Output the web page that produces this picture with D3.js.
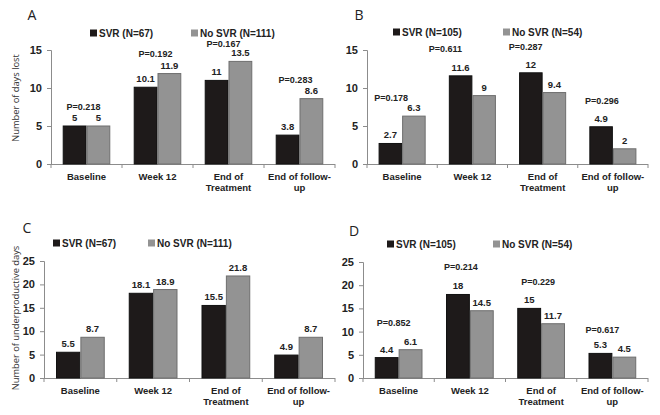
<!DOCTYPE html>
<html><head><meta charset="utf-8">
<script src="https://cdn.jsdelivr.net/npm/d3@7"></script>
<style>body{margin:0;background:#fff}svg{display:block}</style>
</head><body><svg id="c" width="660" height="415"></svg>
<script>
const categories = [["Baseline"], ["Week 12"], ["End of", "Treatment"], ["End of follow-", "up"]];
const catKeys = ["Baseline", "Week 12", "End of Treatment", "End of follow-up"];
const seriesNames = { A: ["SVR (N=67)", "No SVR (N=111)"], B: ["SVR (N=105)", "No SVR (N=54)"], C: ["SVR (N=67)", "No SVR (N=111)"], D: ["SVR (N=105)", "No SVR (N=54)"] };
const svrA = [5, 10.1, 11, 3.8];
const noSvrA = [5, 11.9, 13.5, 8.6];
const pA = ["P=0.218", "P=0.192", "P=0.167", "P=0.283"];
const svrB = [2.7, 11.6, 12, 4.9];
const noSvrB = [6.3, 9, 9.4, 2];
const pB = ["P=0.178", "P=0.611", "P=0.287", "P=0.296"];
const svrC = [5.5, 18.1, 15.5, 4.9];
const noSvrC = [8.7, 18.9, 21.8, 8.7];
const pC = [];
const svrD = [4.4, 18, 15, 5.3];
const noSvrD = [6.1, 14.5, 11.7, 4.5];
const pD = ["P=0.852", "P=0.214", "P=0.229", "P=0.617"];
const ticksAB = [0, 5, 10, 15];
const ticksCD = [0, 5, 10, 15, 20, 25];
const yTitles = { A: "Number of days lost", C: "Number of underproductive days" };

// layout (not data)
const panels = [
  { id: "A", svr: svrA, no: noSvrA, p: pA, ticks: ticksAB, max: 15, x0: 51, x1: 335, yT: 50, yB: 164, letter: [32, 20], leg: [90, 191, 33], title: [16, 98], pdx: [-3, -2, -5, -4], pdy: [20, 20, 18, 19] },
  { id: "B", svr: svrB, no: noSvrB, p: pB, ticks: ticksAB, max: 15, x0: 367, x1: 648, yT: 50, yB: 164, letter: [359, 20], leg: [393, 503, 32], pdx: [-11, -27, -17, -11], pdy: [19, 27, 26, 26] },
  { id: "C", svr: svrC, no: noSvrC, p: pC, ticks: ticksCD, max: 25, x0: 44, x1: 335, yT: 261, yB: 378, letter: [27, 233], leg: [53, 148, 243], title: [16, 318], pdx: [], pdy: [] },
  { id: "D", svr: svrD, no: noSvrD, p: pD, ticks: ticksCD, max: 25, x0: 363, x1: 648, yT: 262, yB: 378, letter: [354, 236], leg: [387, 493, 244], pdx: [-5, -9, -3, -10], pdy: [27, 28, 27, 24] }
];
const BLACK = "#1e1a1a", GRAY = "#939393", GRAYS = "#6e6e6e", AXIS = "#8c8c8c";
const svg = d3.select("#c");
const FONT = "Liberation Sans, Arial, sans-serif";

panels.forEach(P => {
  const g = svg.append("g");
  const x = d3.scaleBand().domain(catKeys).range([P.x0, P.x1]).paddingInner(0.33).paddingOuter(0.165);
  const xs = d3.scaleBand().domain([0, 1]).range([0, x.bandwidth()]);
  const y = d3.scaleLinear().domain([0, P.max]).range([P.yB, P.yT]);

  // y axis
  const ya = d3.axisLeft(y).tickValues(P.ticks).tickSize(4).tickPadding(5);
  const yg = g.append("g").attr("transform", `translate(${P.x0},0)`).call(ya);
  yg.select(".domain").attr("stroke", AXIS);
  yg.selectAll(".tick line").attr("stroke", AXIS);
  yg.selectAll(".tick text").attr("font-family", FONT).attr("font-weight", "bold").attr("font-size", 11).attr("fill", "#222");

  // x axis line with separator ticks
  g.append("line").attr("x1", P.x0).attr("x2", P.x1).attr("y1", P.yB + 0.5).attr("y2", P.yB + 0.5).attr("stroke", AXIS);
  const seps = [P.x0, ...catKeys.slice(1).map(k => x(k) - x.step() * x.paddingInner() / 2), P.x1];
  g.selectAll(".sep").data(seps).join("line").attr("x1", d => d).attr("x2", d => d)
    .attr("y1", P.yB).attr("y2", P.yB + 4).attr("stroke", AXIS);

  // bars
  const rows = catKeys.map((k, i) => ({ k, i, v: [P.svr[i], P.no[i]] }));
  const grp = g.selectAll(".grp").data(rows).join("g").attr("transform", d => `translate(${x(d.k)},0)`);
  grp.selectAll("rect").data(d => d.v.map((v, s) => ({ v, s }))).join("rect")
    .attr("x", d => xs(d.s) + 0.5).attr("width", xs.bandwidth() - 1)
    .attr("y", d => y(d.v)).attr("height", d => y(0) - y(d.v))
    .attr("fill", d => d.s === 0 ? BLACK : GRAY)
    .attr("stroke", d => d.s === 0 ? "#111" : GRAYS).attr("stroke-width", 1);
  grp.selectAll("text.val").data(d => d.v.map((v, s) => ({ v, s }))).join("text").attr("class", "val")
    .attr("x", d => xs(d.s) + xs.bandwidth() / 2).attr("y", d => y(d.v) - 5)
    .attr("text-anchor", "middle").attr("font-family", FONT).attr("font-weight", "bold").attr("font-size", 9.5).attr("fill", "#222")
    .text(d => String(d.v));

  // p labels
  P.p.forEach((t, i) => {
    const k = catKeys[i];
    const top = y(Math.max(P.svr[i], P.no[i]));
    g.append("text").attr("x", x(k) + x.bandwidth() / 2 + P.pdx[i]).attr("y", top - P.pdy[i] + 3.5)
      .attr("text-anchor", "middle").attr("font-family", FONT).attr("font-weight", "bold").attr("font-size", 9).attr("fill", "#222").text(t);
  });

  // category labels
  categories.forEach((lines, i) => {
    const t = g.append("text").attr("text-anchor", "middle").attr("font-family", FONT).attr("font-weight", "bold").attr("font-size", 9.5).attr("fill", "#222");
    lines.forEach((ln, j) => t.append("tspan").attr("x", x(catKeys[i]) + x.bandwidth() / 2).attr("y", P.yB + 16 + j * 10.5).text(ln));
  });

  // legend
  const names = seriesNames[P.id];
  [0, 1].forEach(s => {
    g.append("rect").attr("x", P.leg[s]).attr("y", P.leg[2] - 3.5).attr("width", 7).attr("height", 7).attr("fill", s ? GRAY : BLACK);
    g.append("text").attr("x", P.leg[s] + 9).attr("y", P.leg[2] + 3.6).attr("font-family", FONT).attr("font-weight", "bold").attr("font-size", 10).attr("fill", "#222").text(names[s]);
  });

  // panel letter
  g.append("text").attr("x", P.letter[0]).attr("y", P.letter[1]).attr("text-anchor", "middle").attr("font-family", "Open Sans, sans-serif").attr("font-size", 14).attr("fill", "#222").text(P.id);

  // y title
  if (P.title) {
    g.append("text").attr("transform", `translate(${P.title[0]},${P.title[1]}) rotate(-90)`).attr("text-anchor", "middle")
      .attr("dy", "0.35em").attr("font-family", "Open Sans, sans-serif").attr("font-size", 9.3).attr("fill", "#333").text(yTitles[P.id]);
  }
});
</script></body></html>
